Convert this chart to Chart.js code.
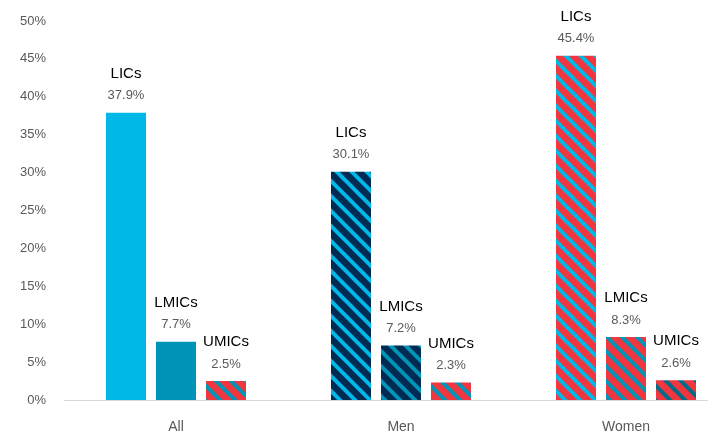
<!DOCTYPE html>
<html>
<head>
<meta charset="utf-8">
<script src="https://cdn.jsdelivr.net/npm/chart.js@4/dist/chart.umd.min.js"></script>
<style>
  html, body { margin: 0; padding: 0; background: #fff; overflow: hidden; }
  #wrap { width: 717px; height: 437px; }
</style>
</head>
<body>
<div id="wrap"><canvas id="chart" width="717" height="437"></canvas></div>
<script>
// chart values
const categories = ["All", "Men", "Women"];
const seriesNames = ["LICs", "LMICs", "UMICs"];
const lics = [37.9, 30.1, 45.4];
const lmics = [7.7, 7.2, 8.3];
const umics = [2.5, 2.3, 2.6];
const yTicks = [0, 5, 10, 15, 20, 25, 30, 35, 40, 45, 50];

// colours
const CYAN = "#00b8e8";
const TEAL = "#0094b6";
const NAVY = "#002b52";
const RED = "#f2363f";
const DARKTEAL = "#006c86";

// diagonal "\" stripe pattern
function stripe(bg, fg) {
  const s = 15;
  const c = document.createElement("canvas");
  c.width = s; c.height = s;
  const g = c.getContext("2d");
  g.fillStyle = bg;
  g.fillRect(0, 0, s, s);
  g.strokeStyle = fg;
  g.lineWidth = 4;
  g.beginPath();
  for (let k = -1; k <= 1; k++) {
    g.moveTo(k * s - 2, -2);
    g.lineTo(k * s + s + 2, s + 2);
  }
  g.stroke();
  return g.createPattern(c, "repeat");
}

const fills = [
  [CYAN, stripe(NAVY, CYAN), stripe(RED, CYAN)],
  [TEAL, stripe(NAVY, TEAL), stripe(RED, TEAL)],
  [stripe(RED, TEAL), stripe(RED, TEAL), stripe(RED, DARKTEAL)]
];

const toPoints = arr => arr.map((v, i) => ({ x: i, y: v }));

// names + values above each bar
const barLabels = {
  id: "barLabels",
  afterDatasetsDraw(chart) {
    const ctx = chart.ctx;
    ctx.save();
    ctx.textAlign = "center";
    ctx.textBaseline = "middle";
    chart.data.datasets.forEach((ds, di) => {
      chart.getDatasetMeta(di).data.forEach((bar, i) => {
        ctx.fillStyle = "#000";
        ctx.font = "15px 'Liberation Sans', Arial, sans-serif";
        ctx.fillText(ds.label, bar.x, bar.y - 39);
        ctx.fillStyle = "#595959";
        ctx.font = "13px 'Liberation Sans', Arial, sans-serif";
        ctx.fillText(ds.data[i].y.toFixed(1) + "%", bar.x, bar.y - 17);
      });
    });
    ctx.restore();
  }
};

new Chart(document.getElementById("chart"), {
  type: "bar",
  data: {
    datasets: [
      { label: seriesNames[0], data: toPoints(lics), backgroundColor: fills[0] },
      { label: seriesNames[1], data: toPoints(lmics), backgroundColor: fills[1] },
      { label: seriesNames[2], data: toPoints(umics), backgroundColor: fills[2] }
    ]
  },
  options: {
    responsive: false,
    animation: false,
    layout: { padding: { top: 21, right: 10, left: 0, bottom: 0 } },
    categoryPercentage: 150 / 225,
    barPercentage: 0.8,
    plugins: { legend: { display: false }, tooltip: { enabled: false } },
    scales: {
      x: {
        type: "linear",
        offset: false,
        min: -112 / 225,
        max: -112 / 225 + 643 / 225,
        afterBuildTicks: s => { s.ticks = categories.map((c, i) => ({ value: i })); },
        afterFit: s => { s.height = 37; },
        grid: { display: false, drawTicks: false, tickLength: 0 },
        border: { display: true, color: "#d9d9d9", width: 1 },
        ticks: {
          padding: 19,
          color: "#595959",
          font: { family: "'Liberation Sans', Arial, sans-serif", size: 14 },
          callback: v => categories[v]
        }
      },
      y: {
        min: 0,
        max: 50,
        afterBuildTicks: s => { s.ticks = yTicks.map(v => ({ value: v })); },
        afterFit: s => { s.width = 64; s.paddingTop = 0; s.paddingBottom = 0; },
        grid: { display: false, drawTicks: false, tickLength: 0 },
        border: { display: false },
        ticks: {
          padding: 18,
          color: "#595959",
          font: { family: "'Liberation Sans', Arial, sans-serif", size: 13 },
          callback: v => v + "%"
        }
      }
    }
  },
  plugins: [barLabels]
});
</script>
</body>
</html>
